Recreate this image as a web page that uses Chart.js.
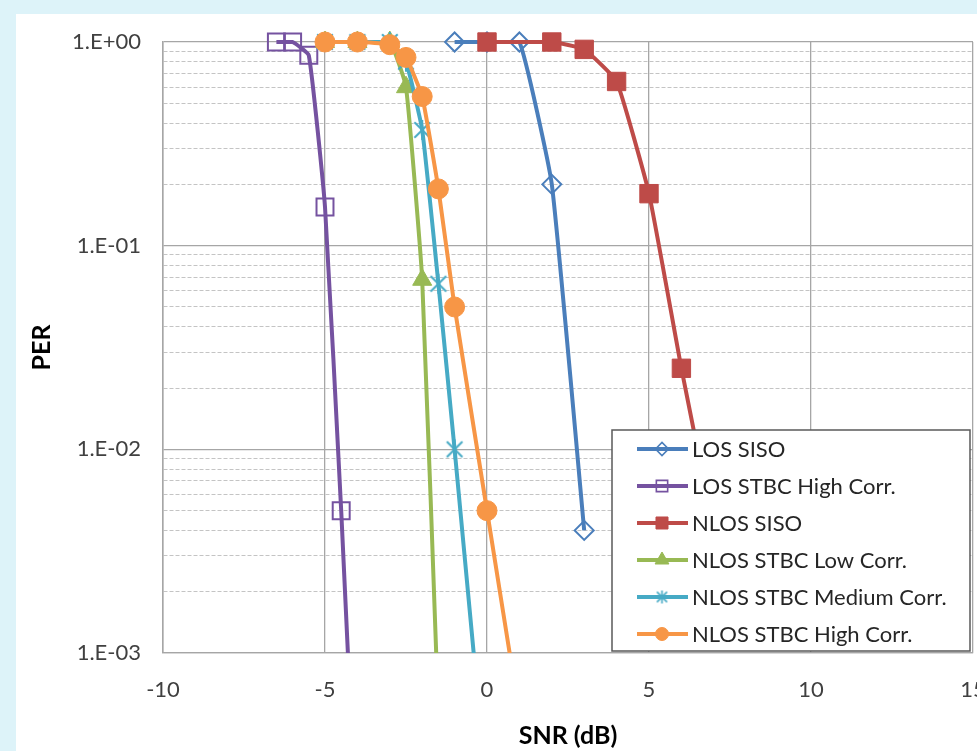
<!DOCTYPE html>
<html>
<head>
<meta charset="utf-8">
<title>PER vs SNR</title>
<script src="https://cdn.jsdelivr.net/npm/chart.js@4.4.0/dist/chart.umd.min.js"></script>
<style>
  html, body { margin: 0; padding: 0; width: 977px; height: 751px; overflow: hidden; background: #ddf3f9; }
  #wrap { position: absolute; left: 16px; top: 14px; width: 1000px; height: 737px; background: #fff; }
</style>
</head>
<body>
<div id="wrap"><canvas id="perChart"></canvas></div>
<script>
// values (SNR in dB, PER)
const snrLosSiso = [-1, 0, 1, 2, 3];
const perLosSiso = [1, 1, 1, 0.2, 0.004];
const snrLosStbcHigh = [-6.5, -6, -5.5, -5, -4.5, -4];
const perLosStbcHigh = [1, 1, 0.86, 0.155, 0.005, 0.0001];
const snrNlosSiso = [0, 2, 3, 4, 5, 6, 7];
const perNlosSiso = [1, 1, 0.92, 0.64, 0.18, 0.025, 0.004];
const snrNlosStbcLow = [-5, -4, -3, -2.5, -2, -1.5];
const perNlosStbcLow = [1, 1, 1, 0.6, 0.068, 0.0005];
const snrNlosStbcMed = [-5, -4, -3, -2.5, -2, -1.5, -1, 0];
const perNlosStbcMed = [1, 1, 1, 0.8, 0.37, 0.065, 0.01, 0.0002];
const snrNlosStbcHigh = [-5, -4, -3, -2.5, -2, -1.5, -1, 0, 1];
const perNlosStbcHigh = [1, 1, 0.97, 0.84, 0.54, 0.19, 0.05, 0.005, 0.0005];

const seriesNames = ['LOS SISO', 'LOS STBC High Corr.', 'NLOS SISO',
  'NLOS STBC Low Corr.', 'NLOS STBC Medium Corr.', 'NLOS STBC High Corr.'];

const xTicks = [-10, -5, 0, 5, 10, 15];
const yDecades = [0.001, 0.01, 0.1, 1];
const yTickLabels = ['1.E-03', '1.E-02', '1.E-01', '1.E+00'];

const FONT = 'Lato, "Open Sans", sans-serif';

// gridline positions: 1..9 in every decade
let yGrid = [];
for (let d = 0; d < yDecades.length - 1; d++) {
  for (let m = 1; m < 10; m++) {
    yGrid.push(m === 1 ? yDecades[d] : yDecades[d] * m);
  }
}
yGrid.push(yDecades[yDecades.length - 1]);

function isDecade(v) {
  return yDecades.indexOf(v) >= 0;
}

function toPoints(xs, ys) {
  return xs.map((x, i) => ({ x: x, y: ys[i] }));
}

// excel style asterisk marker
function makeAsterisk(size, color, lw) {
  let c = document.createElement('canvas');
  c.width = size; c.height = size;
  let g = c.getContext('2d');
  let m = size / 2, r = size / 2 - 1;
  g.strokeStyle = color;
  g.lineWidth = lw;
  g.beginPath();
  g.moveTo(m, m - r); g.lineTo(m, m + r);
  let d = r * 0.78;
  g.moveTo(m - d, m - d); g.lineTo(m + d, m + d);
  g.moveTo(m + d, m - d); g.lineTo(m - d, m + d);
  g.stroke();
  return c;
}

const colBlue = '#4a7ebb', colPurple = '#7552a0', colRed = '#be4b48',
      colGreen = '#98b954', colTeal = '#46aac5', colOrange = '#f79646';

const starBig = makeAsterisk(22, colTeal, 2);
const starSmall = makeAsterisk(15, colTeal, 1.6);

function makeSeries(i, xs, ys, color, style, radius, filled, legendRadius) {
  return {
    label: seriesNames[i],
    data: toPoints(xs, ys),
    borderColor: color,
    borderWidth: 4,
    backgroundColor: color,
    pointStyle: style,
    pointRadius: radius,
    pointHoverRadius: radius,
    pointBackgroundColor: filled ? color : 'rgba(0,0,0,0)',
    pointBorderColor: color,
    pointBorderWidth: filled ? 1 : 2,
    tension: 0.12,
    clip: { left: false, top: false, right: false, bottom: 0 },
    order: 6 - i,
    legendRadius: legendRadius
  };
}

const datasets = [
  makeSeries(0, snrLosSiso, perLosSiso, colBlue, 'rectRot', 9.5, false, 6.5),
  makeSeries(1, snrLosStbcHigh, perLosStbcHigh, colPurple, 'rect', 12, false, 8),
  makeSeries(2, snrNlosSiso, perNlosSiso, colRed, 'rect', 13, true, 8.5),
  makeSeries(3, snrNlosStbcLow, perNlosStbcLow, colGreen, 'triangle', 11, true, 8),
  makeSeries(4, snrNlosStbcMed, perNlosStbcMed, colTeal, starBig, 11, false, 7),
  makeSeries(5, snrNlosStbcHigh, perNlosStbcHigh, colOrange, 'circle', 10, true, 6.5)
];

// legend drawn inside the plot, bottom right
function drawLegendMarker(ctx, ds, x, y) {
  let r = ds.legendRadius;
  let st = ds.pointStyle;
  ctx.save();
  ctx.fillStyle = ds.pointBackgroundColor;
  ctx.strokeStyle = ds.pointBorderColor;
  ctx.lineWidth = ds.pointBorderWidth === 2 ? 1.6 : 1;
  if (typeof st !== 'string') {
    ctx.drawImage(starSmall, x - starSmall.width / 2, y - starSmall.height / 2);
    ctx.restore();
    return;
  }
  ctx.beginPath();
  if (st === 'rectRot') {
    ctx.moveTo(x - r, y); ctx.lineTo(x, y - r); ctx.lineTo(x + r, y); ctx.lineTo(x, y + r); ctx.closePath();
  } else if (st === 'rect') {
    let s = r * Math.SQRT1_2;
    ctx.rect(x - s, y - s, 2 * s, 2 * s);
  } else if (st === 'triangle') {
    ctx.moveTo(x, y - r);
    ctx.lineTo(x + r * Math.sin(Math.PI * 2 / 3), y - r * Math.cos(Math.PI * 2 / 3));
    ctx.lineTo(x + r * Math.sin(Math.PI * 4 / 3), y - r * Math.cos(Math.PI * 4 / 3));
    ctx.closePath();
  } else {
    ctx.arc(x, y, r, 0, Math.PI * 2);
  }
  ctx.fill();
  ctx.stroke();
  ctx.restore();
}

const boxLegend = {
  id: 'boxLegend',
  afterDraw(chart) {
    const { ctx, chartArea } = chart;
    const w = 358, h = 221, rowH = 37;
    const left = chartArea.right - 3 - w;
    const top = chartArea.bottom - 2 - h;
    ctx.save();
    ctx.fillStyle = '#ffffff';
    ctx.fillRect(left, top, w, h);
    ctx.strokeStyle = '#595959';
    ctx.lineWidth = 1.5;
    ctx.strokeRect(left, top, w, h);
    ctx.font = '22px ' + FONT;
    ctx.textBaseline = 'middle';
    chart.data.datasets.forEach((ds, i) => {
      let y = top + 19 + i * rowH;
      ctx.strokeStyle = ds.borderColor;
      ctx.lineWidth = 4;
      ctx.beginPath();
      ctx.moveTo(left + 25, y);
      ctx.lineTo(left + 76, y);
      ctx.stroke();
      drawLegendMarker(ctx, ds, left + 50, y);
      ctx.fillStyle = '#262626';
      ctx.fillText(ds.label, left + 80, y + 1);
    });
    ctx.restore();
  }
};

const perChart = new Chart(document.getElementById('perChart'), {
  type: 'line',
  data: { datasets: datasets },
  options: {
    responsive: true,
    maintainAspectRatio: false,
    animation: false,
    layout: { padding: { left: 0, top: 28, right: 43, bottom: 0 } },
    plugins: {
      legend: { display: false },
      tooltip: { enabled: false }
    },
    scales: {
      x: {
        type: 'linear',
        min: xTicks[0],
        max: xTicks[xTicks.length - 1],
        afterBuildTicks: s => { s.ticks = xTicks.map(v => ({ value: v })); },
        afterFit: s => { s.height = 98; },
        ticks: {
          font: { family: FONT, size: 22 },
          color: '#404040',
          padding: 24,
          maxRotation: 0,
          autoSkip: false
        },
        grid: { color: '#a6a6a6', lineWidth: 1.3, drawTicks: false },
        border: { color: '#a6a6a6', width: 1.3 },
        title: {
          display: true,
          text: 'SNR (dB)',
          font: { family: FONT, size: 25, weight: 'bold' },
          color: '#000',
          padding: { top: 12, bottom: 0 }
        }
      },
      y: {
        type: 'logarithmic',
        min: yDecades[0],
        max: yDecades[yDecades.length - 1],
        afterBuildTicks: s => { s.ticks = yGrid.map(v => ({ value: v })); },
        afterFit: s => {
          s.width = 147;
          s.paddingTop = 0;
          s.paddingBottom = 0;
        },
        ticks: {
          font: { family: FONT, size: 22 },
          color: '#404040',
          padding: 22,
          autoSkip: false,
          callback: v => {
            let k = yDecades.indexOf(v);
            return k >= 0 ? yTickLabels[k] : '';
          }
        },
        grid: {
          drawTicks: false,
          color: c => (c.tick && !isDecade(c.tick.value)) ? '#c4c4c4' : '#a6a6a6',
          lineWidth: c => (c.tick && !isDecade(c.tick.value)) ? 1 : 1.3
        },
        border: {
          color: '#a6a6a6',
          width: 1.5,
          dash: c => (c.tick && !isDecade(c.tick.value)) ? [4, 2] : []
        },
        title: {
          display: true,
          text: 'PER',
          font: { family: FONT, size: 25, weight: 'bold' },
          color: '#000',
          padding: { top: 11, bottom: 0 }
        }
      }
    }
  },
  plugins: [boxLegend]
});
</script>
</body>
</html>
